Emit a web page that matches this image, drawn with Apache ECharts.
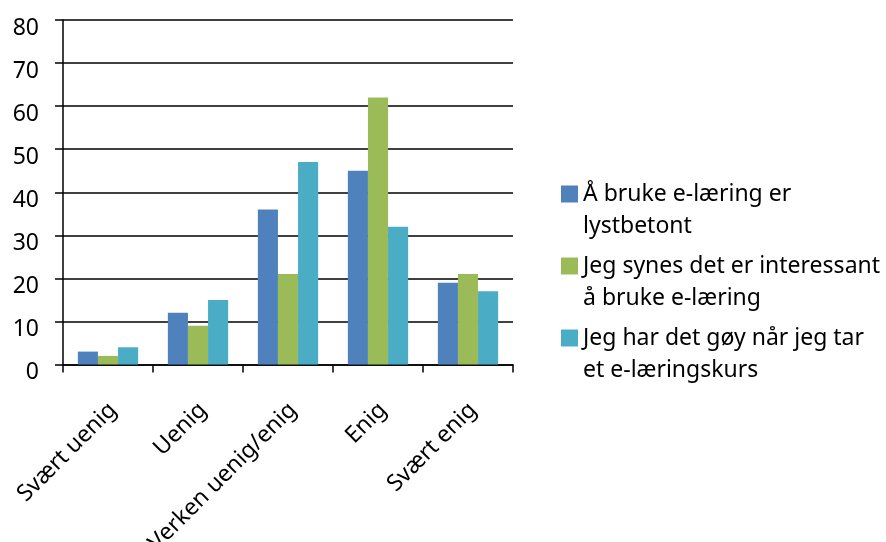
<!DOCTYPE html>
<html>
<head>
<meta charset="utf-8">
<script src="https://cdn.jsdelivr.net/npm/echarts@6/dist/echarts.min.js"></script>
<style>
  html, body { margin: 0; padding: 0; background: #fff; }
  #chart { width: 886px; height: 542px; }
</style>
</head>
<body>
<div id="chart"></div>
<script>
// kategorier og verdier lest av figuren
const categories = ['Svært uenig', 'Uenig', 'Verken uenig/enig', 'Enig', 'Svært enig']
const seriesNames = [
  'Å bruke e-læring er\nlystbetont',
  'Jeg synes det er interessant\nå bruke e-læring',
  'Jeg har det gøy når jeg tar\net e-læringskurs'
]
const lystbetont = [3, 12, 36, 45, 19]
const interessant = [2, 9, 21, 62, 21]
const goy = [4, 15, 47, 32, 17]
const colors = ['#4F81BD', '#9BBB59', '#4BACC6']

const font = 'Noto Sans'
const chart = echarts.init(document.getElementById('chart'))

const option = {
  animation: false,
  color: colors,
  textStyle: { fontFamily: font },
  grid: { left: 63, right: 373, top: 20, bottom: 177.5, outerBoundsMode: 'none', containLabel: false },
  legend: {
    orient: 'vertical',
    left: 561,
    top: 146,
    padding: 0,
    itemWidth: 17,
    itemHeight: 17,
    itemGap: -24,
    icon: 'rect',
    data: seriesNames,
    // tom linje foran, slik at første tekstlinje står på høyde med ikonet
    formatter: name => '\n' + name,
    textStyle: {
      fontFamily: font,
      fontSize: 23,
      color: '#000',
      lineHeight: 32
    }
  },
  xAxis: {
    type: 'category',
    data: categories,
    axisLine: { lineStyle: { color: '#000', width: 1.5 } },
    axisTick: { show: true, length: 8, lineStyle: { color: '#000', width: 1.5 } },
    axisLabel: {
      rotate: 45,
      margin: 37,
      interval: 0,
      verticalAlign: 'top',
      lineHeight: 14,
      fontFamily: font,
      fontSize: 23,
      color: '#000'
    }
  },
  yAxis: {
    type: 'value',
    min: 0,
    max: 80,
    interval: 10,
    axisLine: { show: true, lineStyle: { color: '#000', width: 1.5 } },
    axisTick: { show: true, length: 8, lineStyle: { color: '#000', width: 1.5 } },
    splitLine: { lineStyle: { color: '#000', width: 1.5 } },
    axisLabel: {
      margin: 24,
      verticalAlign: 'top',
      lineHeight: 16,
      fontFamily: font,
      fontSize: 23,
      color: '#000'
    }
  },
  series: [
    { name: seriesNames[0], type: 'bar', data: lystbetont, barGap: '0%', barCategoryGap: '33%' },
    { name: seriesNames[1], type: 'bar', data: interessant, barGap: '0%', barCategoryGap: '33%' },
    { name: seriesNames[2], type: 'bar', data: goy, barGap: '0%', barCategoryGap: '33%' }
  ]
}

chart.setOption(option)
</script>
</body>
</html>
